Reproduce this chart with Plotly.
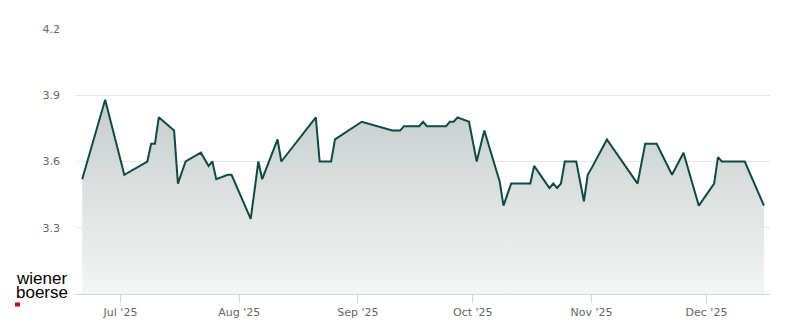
import plotly.graph_objects as go

dates = [
    "2025-06-21", "2025-06-27", "2025-07-02", "2025-07-08", "2025-07-09", "2025-07-10",
    "2025-07-11", "2025-07-15", "2025-07-16", "2025-07-18", "2025-07-22", "2025-07-24",
    "2025-07-25", "2025-07-26", "2025-07-29", "2025-07-30", "2025-08-04", "2025-08-06",
    "2025-08-07", "2025-08-11", "2025-08-12", "2025-08-21", "2025-08-22", "2025-08-25",
    "2025-08-26", "2025-09-02", "2025-09-10", "2025-09-12", "2025-09-13", "2025-09-17",
    "2025-09-18", "2025-09-19", "2025-09-24", "2025-09-25", "2025-09-26", "2025-09-27",
    "2025-09-30", "2025-10-02", "2025-10-04", "2025-10-08", "2025-10-09", "2025-10-11",
    "2025-10-16", "2025-10-17", "2025-10-21", "2025-10-22", "2025-10-23", "2025-10-24",
    "2025-10-25", "2025-10-28", "2025-10-30", "2025-10-31", "2025-11-01", "2025-11-05",
    "2025-11-13", "2025-11-15", "2025-11-18", "2025-11-22", "2025-11-25", "2025-11-29",
    "2025-12-03", "2025-12-04", "2025-12-05", "2025-12-11", "2025-12-16",
]
prices = [
    3.52, 3.88, 3.54, 3.60, 3.68, 3.68,
    3.80, 3.74, 3.50, 3.60, 3.64, 3.58,
    3.60, 3.52, 3.54, 3.54, 3.34, 3.60,
    3.52, 3.70, 3.60, 3.80, 3.60, 3.60,
    3.70, 3.78, 3.74, 3.74, 3.76, 3.76,
    3.78, 3.76, 3.76, 3.78, 3.78, 3.80,
    3.78, 3.60, 3.74, 3.51, 3.40, 3.50,
    3.50, 3.58, 3.48, 3.50, 3.48, 3.50,
    3.60, 3.60, 3.42, 3.54, 3.57, 3.70,
    3.50, 3.68, 3.68, 3.54, 3.64, 3.40,
    3.50, 3.62, 3.60, 3.60, 3.40,
]

x_tick_vals = ["2025-07-01", "2025-08-01", "2025-09-01", "2025-10-01", "2025-11-01", "2025-12-01"]
x_tick_text = ["Jul '25", "Aug '25", "Sep '25", "Oct '25", "Nov '25", "Dec '25"]
y_tick_vals = [3.3, 3.6, 3.9, 4.2]
y_tick_text = ["3.3", "3.6", "3.9", "4.2"]

LINE = "#0f4a44"
AXIS = "#ccd6eb"
GRID = "#e6e6e6"
LABEL = "#666666"

fig = go.Figure()
fig.add_trace(go.Scatter(
    x=dates, y=prices, mode="lines",
    line=dict(color=LINE, width=2),
    fill="tozeroy",
    fillgradient=dict(type="vertical", start=3.0, stop=3.88,
                      colorscale=[[0, "#f4f5f5"], [1, "#c5cdcc"]]),
    hoverinfo="skip", showlegend=False,
))

fig.update_layout(
    width=800, height=324,
    margin=dict(l=75, r=30, t=29, b=30),
    paper_bgcolor="white", plot_bgcolor="white",
    font=dict(family="DejaVu Sans", size=11, color=LABEL),
    xaxis=dict(
        range=["2025-06-19 03:00", "2025-12-17 14:00"],
        tickvals=x_tick_vals, ticktext=x_tick_text,
        showgrid=False, zeroline=False, automargin=False,
        showline=True, linecolor=AXIS, linewidth=1,
        ticks="outside", ticklen=8, tickcolor=AXIS, tickwidth=1,
        tickfont=dict(size=11, color=LABEL),
    ),
    yaxis=dict(
        range=[3.0, 4.2],
        tickvals=y_tick_vals, ticktext=y_tick_text,
        showgrid=True, gridcolor=GRID, gridwidth=1,
        zeroline=False, showline=False, ticks="", automargin=False,
        ticklabelstandoff=14,
        tickfont=dict(size=11, color=LABEL),
    ),
)

# wiener boerse logo
def px_x(x):
    return (x - 75) / 695.0

def px_y(y):
    return (294 - y) / 265.0

for word, yc in (("wiener", 278), ("boerse", 292)):
    fig.add_annotation(text=word, xref="paper", yref="paper", x=px_x(15), y=px_y(yc),
                       xanchor="left", yanchor="middle", showarrow=False,
                       height=13, borderpad=0,
                       font=dict(family="Liberation Sans", size=17, color="#000000"))
fig.add_shape(type="rect", xref="paper", yref="paper",
              x0=px_x(15), x1=px_x(20), y0=px_y(306.5), y1=px_y(302.5),
              fillcolor="#d0021b", line=dict(width=0))

fig.write_html("out.html", config={"displayModeBar": False})
